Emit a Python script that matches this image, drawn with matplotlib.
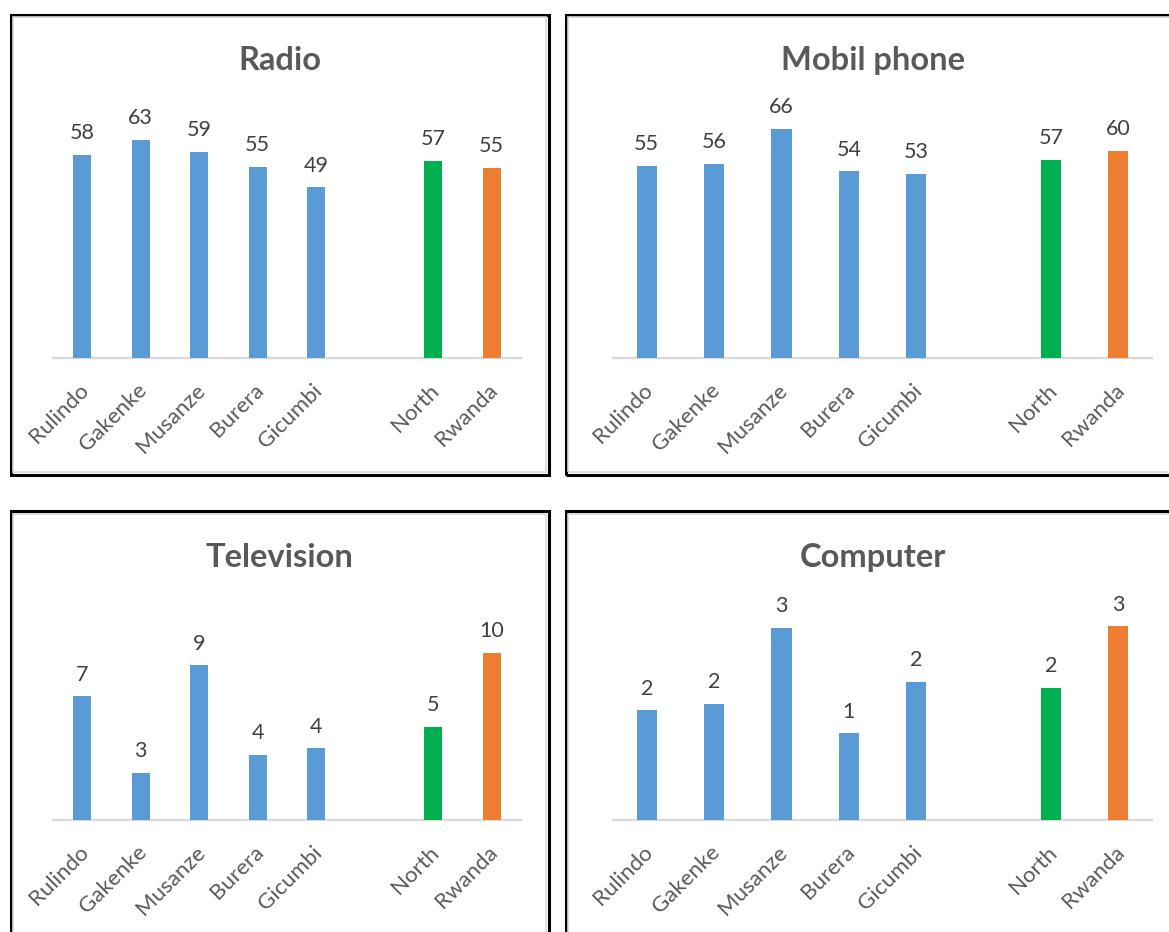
import matplotlib
matplotlib.use("Agg")
import matplotlib.pyplot as plt
from matplotlib.patches import Rectangle
from matplotlib.transforms import ScaledTranslation

# Data (bar heights, labels show rounded values)
categories = ["Rulindo", "Gakenke", "Musanze", "Burera", "Gicumbi", "North", "Rwanda"]
radio = [58.4, 62.6, 59.2, 54.9, 49.0, 56.7, 54.6]
mobile_phone = [55.1, 55.8, 65.8, 53.6, 52.9, 56.9, 59.5]
television = [7.25, 2.75, 9.06, 3.81, 4.2, 5.45, 9.8]
computer = [1.66, 1.76, 2.91, 1.31, 2.09, 2.0, 2.93]

titles = ["Radio", "Mobil phone", "Television", "Computer"]
series = [radio, mobile_phone, television, computer]

# one empty slot between the districts and the totals
positions = [0, 1, 2, 3, 4, 6, 7]
colors = ["#5B9BD5"] * 5 + ["#00B050", "#ED7D31"]

W, H = 1169, 932
plt.rcParams["font.family"] = ["Lato", "DejaVu Sans"]
fig = plt.figure(figsize=(W / 100, H / 100), dpi=100)
fig.patch.set_facecolor("white")


def fx(px):
    return px / W


def fy(px):
    return 1 - px / H


# layout in pixels: (box left, box top, box right, box bottom), axes (left, right, top, baseline), ymax
panels = [
    ((10.5, 14.5, 548.5, 474.5), (53, 521, 100, 358), 74.1),
    ((565.5, 14.5, 1185, 474.5), (613, 1152, 100, 358), 74.1),
    ((10.5, 511.5, 548.5, 945), (53, 521, 600, 820), 12.9),
    ((565.5, 511.5, 1185, 945), (613, 1152, 600, 820), 3.33),
]

for (box, axpos, ymax), title, values in zip(panels, titles, series):
    bl, bt, br, bb = box
    # black frame with a faint grey inner line
    fig.patches.append(Rectangle((fx(bl), fy(bb)), fx(br - bl), (bb - bt) / H,
                                 transform=fig.transFigure, fill=False,
                                 edgecolor="black", linewidth=2.2, zorder=5))
    fig.patches.append(Rectangle((fx(bl + 2.5), fy(bb - 2.5)), fx(br - bl - 5), (bb - bt - 5) / H,
                                 transform=fig.transFigure, fill=False,
                                 edgecolor="#D9D9D9", linewidth=1.2, zorder=5))

    al, ar, at, ab = axpos
    ax = fig.add_axes([fx(al), fy(ab), fx(ar - al), (ab - at) / H])
    ax.bar(positions, values, width=0.3, color=colors, zorder=3)
    ax.set_xlim(-0.5, 7.5)
    ax.set_ylim(0, ymax)

    for x, v in zip(positions, values):
        ax.annotate(f"{v:.0f}", (x, v), xytext=(0, 8.5), textcoords="offset points",
                    ha="center", va="bottom", fontsize=15.5, color="#404040",
                    annotation_clip=False)

    for side in ["top", "left", "right"]:
        ax.spines[side].set_visible(False)
    ax.spines["bottom"].set_color("#D9D9D9")
    ax.spines["bottom"].set_linewidth(1.6)
    ax.set_yticks([])
    ax.set_xticks(positions)
    ax.set_xticklabels(categories, rotation=45, ha="right", va="top",
                       rotation_mode="anchor", fontsize=16, color="#595959")
    ax.tick_params(axis="x", length=0, pad=16)
    shift = ScaledTranslation(-4 / 100, 0, fig.dpi_scale_trans)
    for lab in ax.get_xticklabels():
        lab.set_transform(lab.get_transform() + shift)

    # title centred on the chart area
    cx = (bl + br) / 2 if br < W else (bl + 1181) / 2
    ty = bt + 46
    fig.text(fx(cx), fy(ty), title, ha="center", va="center", fontsize=23.5,
             fontweight="bold", color="#595959")

fig.savefig("out.png", dpi=100)
